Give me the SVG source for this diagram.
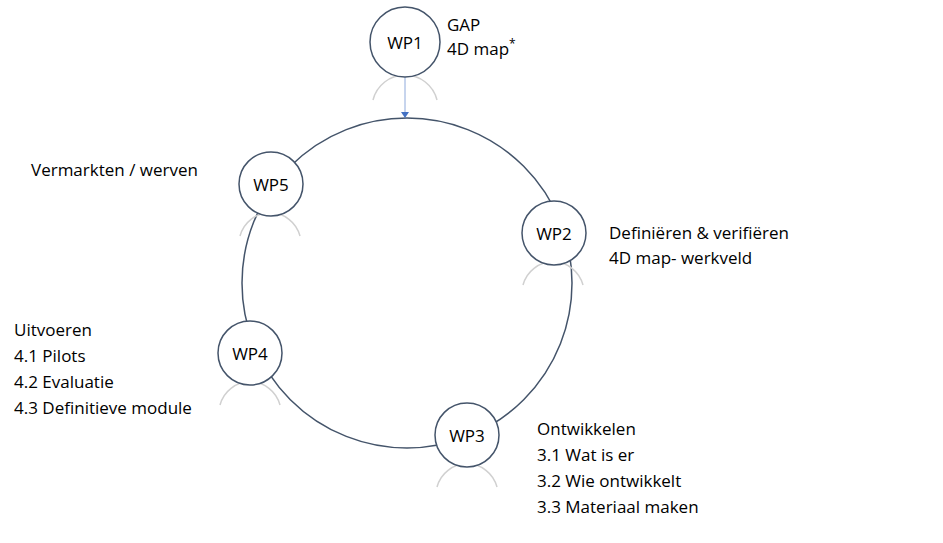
<svg xmlns="http://www.w3.org/2000/svg" width="943" height="543" viewBox="0 0 943 543">
<style>
.n{fill:#fff;stroke:#44546a;stroke-width:1.5}
.r{fill:none;stroke:#d0d0d0;stroke-width:1.5}
.t{font-family:"Open Sans","Liberation Sans",sans-serif;font-size:17px;fill:#000}
.c{text-anchor:middle}
</style>
<defs><marker id="a" markerWidth="8" markerHeight="8" refX="4" refY="6" orient="auto" markerUnits="userSpaceOnUse"><path d="M0,0 L8,0 L4,6 Z" fill="#4472c4" transform="rotate(-90 4 4)"/></marker></defs>
<rect width="943" height="543" fill="#fff"/>
<g id="connectors">
<circle cx="407" cy="283" r="165" fill="none" stroke="#44546a" stroke-width="1.5"/>
<line x1="405" y1="77" x2="405" y2="112" stroke="#8faadc" stroke-width="1"/>
<path d="M401,112 L409,112 L405,118 Z" fill="#4472c4"/>
</g>
<g id="reflections">
<path class="r" d="M373,100 A33,33 0 0 1 437,100"/>
<path class="r" d="M240,236 A31,31 0 0 1 300,236"/>
<path class="r" d="M523,285 A31,31 0 0 1 583,285"/>
<path class="r" d="M220,405 A31,31 0 0 1 280,405"/>
<path class="r" d="M437,487 A31,31 0 0 1 497,487"/>
</g>
<g id="WP1"><circle class="n" cx="405" cy="42" r="35"/><text class="t c" x="405" y="49">WP1</text>
<text class="t" x="447" y="31">GAP</text><text class="t" x="447" y="55">4D map<tspan font-size="12" dy="-7">*</tspan></text></g>
<g id="WP5"><circle class="n" cx="271" cy="184" r="32"/><text class="t c" x="271" y="191">WP5</text>
<text class="t" x="31" y="176">Vermarkten / werven</text></g>
<g id="WP2"><circle class="n" cx="554" cy="233" r="32"/><text class="t c" x="554" y="240">WP2</text>
<text class="t" x="609" y="239">Definiëren &amp; verifiëren</text><text class="t" x="609" y="264">4D map- werkveld</text></g>
<g id="WP4"><circle class="n" cx="250" cy="353" r="32"/><text class="t c" x="250" y="360">WP4</text>
<text class="t" x="14" y="336">Uitvoeren</text><text class="t" x="14" y="362">4.1 Pilots</text><text class="t" x="14" y="388">4.2 Evaluatie</text><text class="t" x="14" y="414">4.3 Definitieve module</text></g>
<g id="WP3"><circle class="n" cx="467" cy="435" r="32"/><text class="t c" x="467" y="442">WP3</text>
<text class="t" x="537" y="435">Ontwikkelen</text><text class="t" x="537" y="461">3.1 Wat is er</text><text class="t" x="537" y="487">3.2 Wie ontwikkelt</text><text class="t" x="537" y="513">3.3 Materiaal maken</text></g>
</svg>
